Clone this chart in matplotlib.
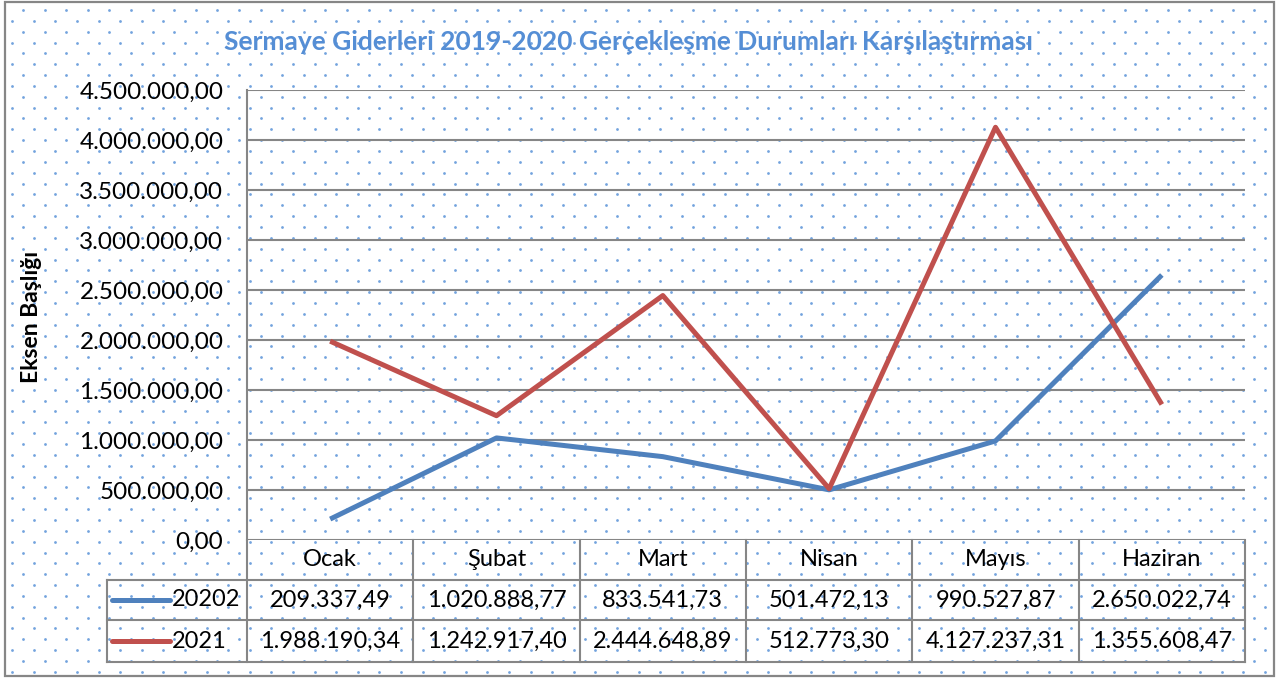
import matplotlib
matplotlib.use("Agg")
import matplotlib.pyplot as plt
from matplotlib.ticker import FuncFormatter, MultipleLocator
from matplotlib.lines import Line2D
import numpy as np

categories = ["Ocak", "Şubat", "Mart", "Nisan", "Mayıs", "Haziran"]
series_names = ["20202", "2021"]
values_a = [209337.49, 1020888.77, 833541.73, 501472.13, 990527.87, 2650022.74]
values_b = [1988190.34, 1242917.40, 2444648.89, 512773.30, 4127237.31, 1355608.47]
title = "Sermaye Giderleri 2019-2020 Gerçekleşme Durumları Karşılaştırması"
ylabel = "Eksen Başlığı"

colors = ["#4F81BD", "#C0504D"]
grid_c = "#868686"
FONT = ["Lato", "DejaVu Sans"]
plt.rcParams['font.family'] = FONT

W, H = 1288, 680
fig = plt.figure(figsize=(W / 100, H / 100), dpi=100)

# background dotted pattern
bg = fig.add_axes([0, 0, 1, 1])
bg.set_xlim(0, W)
bg.set_ylim(H, 0)
bg.axis("off")
xs, ys = [], []
row = 0
yy = 10.0
while yy < 675:
    off = 0 if row % 2 == 0 else -10.8
    xx = 23.0 + off
    while xx < 1273:
        if xx > 7:
            xs.append(xx)
            ys.append(yy)
        xx += 21.6
    yy += 10.85
    row += 1
bg.scatter(xs, ys, s=4, color="#5B93D8", alpha=0.85, linewidths=0, zorder=0)
bg.add_patch(plt.Rectangle((5, 2), 1269, 674, fill=False, edgecolor=grid_c, lw=1.6, zorder=1))

# main axes
L, R, T, B = 247, 1245, 90, 540
ax = fig.add_axes([L / W, 1 - B / H, (R - L) / W, (B - T) / H])
ax.set_facecolor("none")
n = len(categories)
ax.set_xlim(-0.5, n - 0.5)
ax.set_ylim(0, 4500000)
ax.yaxis.set_major_locator(MultipleLocator(500000))


def tr_fmt(v, pos=None):
    s = f"{v:,.2f}"
    return s.replace(",", "X").replace(".", ",").replace("X", ".")


ax.yaxis.set_major_formatter(FuncFormatter(tr_fmt))
ax.tick_params(axis="y", length=0, pad=17, labelsize=17.5)
ax.tick_params(axis="x", length=0, labelbottom=False)
ax.grid(axis="y", color=grid_c, lw=1.5)
ax.set_axisbelow(True)
for s in ["top", "right", "bottom"]:
    ax.spines[s].set_visible(False)
ax.spines["left"].set_color(grid_c)
ax.spines["left"].set_linewidth(1.5)

x = np.arange(n)
ax.plot(x, values_a, color=colors[0], lw=3.6, solid_capstyle="butt", zorder=3)
ax.plot(x, values_b, color=colors[1], lw=3.6, solid_capstyle="butt", zorder=3)

fig.text(628 / W, 1 - 42 / H, title, color="#558ED5", fontweight="bold", fontsize=19,
         ha="center", va="center")
fig.text(31 / W, 1 - 317 / H, ylabel, fontweight="bold", fontsize=16.5, rotation=90,
         ha="center", va="center")

# data table beneath
tf = ax.get_xaxis_transform()
pxh = B - T
y_hdr = -40 / pxh
y_r1 = -80 / pxh
y_r2 = -122 / pxh
lab_left = -0.5 - 140 / ((R - L) / n)

def hline(x0, x1, y):
    ax.add_line(Line2D([x0, x1], [y, y], transform=tf, color=grid_c, lw=1.5, clip_on=False))

def vline(xv, y0, y1):
    ax.add_line(Line2D([xv, xv], [y0, y1], transform=tf, color=grid_c, lw=1.5, clip_on=False))

hline(lab_left, n - 0.5, y_hdr)
hline(lab_left, n - 0.5, y_r1)
hline(lab_left, n - 0.5, y_r2)
vline(-0.5, 0, y_r2)
vline(lab_left, y_hdr, y_r2)
for i in range(1, n + 1):
    vline(i - 0.5, 0, y_r2)

for i, c in enumerate(categories):
    ax.text(i, y_hdr / 2, c, transform=tf, ha="center", va="center", fontsize=17)

rows = [values_a, values_b]
ycent = [(y_hdr + y_r1) / 2, (y_r1 + y_r2) / 2]
pxw = (R - L) / n
for r, vals in enumerate(rows):
    for i, v in enumerate(vals):
        ax.text(i, ycent[r], tr_fmt(v), transform=tf, ha="center", va="center", fontsize=17)
    x0 = -0.5 + (112 - L) / pxw
    x1 = -0.5 + (170 - L) / pxw
    ax.add_line(Line2D([x0, x1], [ycent[r], ycent[r]], transform=tf, color=colors[r], lw=3.6,
                       clip_on=False, solid_capstyle="round"))
    ax.text(-0.5 + (172 - L) / pxw, ycent[r], series_names[r], transform=tf, ha="left",
            va="center", fontsize=17)

fig.savefig("out.png", dpi=100)
